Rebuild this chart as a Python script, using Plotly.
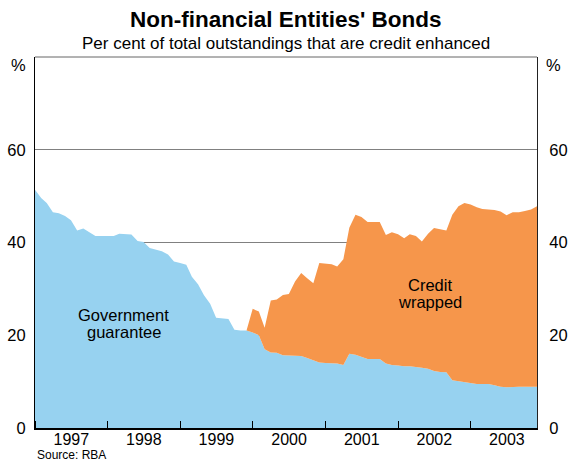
import pandas as pd
import plotly.graph_objects as go

# Monthly, Jan 1997 - Dec 2003
months = pd.date_range("1997-01-01", periods=84, freq="MS")

government_guarantee = [
    51.4, 49.6, 48.5, 46.5, 46.3, 45.7, 44.8, 42.6, 43.0, 42.3, 41.4, 41.4,
    41.4, 41.4, 41.9, 41.8, 41.7, 40.3, 40.1, 38.8, 38.4, 38.1, 37.4, 35.9,
    35.6, 35.2, 32.6, 31.0, 28.6, 26.8, 23.8, 23.6, 23.5, 21.2, 21.0, 21.0,
    20.6, 20.0, 17.0, 16.3, 16.2, 15.7, 15.6, 15.6, 15.5, 15.1, 14.6, 14.1,
    14.0, 14.0, 13.9, 13.6, 16.0, 15.8, 15.4, 14.9, 14.9, 14.9, 13.9, 13.6,
    13.5, 13.3, 13.3, 13.2, 13.0, 12.8, 12.3, 12.1, 12.0, 10.3, 10.1, 10.0,
    9.8, 9.5, 9.5, 9.5, 9.2, 8.9, 8.8, 8.9, 8.9, 8.9, 8.9, 8.9,
]

credit_wrapped = [
    0, 0, 0, 0, 0, 0, 0, 0, 0, 0, 0, 0,
    0, 0, 0, 0, 0, 0, 0, 0, 0, 0, 0, 0,
    0, 0, 0, 0, 0, 0, 0, 0, 0, 0, 0, 0,
    5.1, 5.1, 4.6, 11.2, 11.5, 13.0, 13.3, 16.0, 17.9, 17.2, 16.6, 21.5,
    21.5, 21.3, 20.9, 22.8, 27.2, 30.2, 30.1, 29.5, 29.5, 29.5, 27.7, 28.6,
    28.3, 27.6, 28.5, 28.2, 27.2, 29.1, 30.8, 30.7, 30.6, 35.7, 37.7, 38.5,
    38.4, 38.1, 37.7, 37.6, 37.8, 37.8, 37.1, 37.6, 37.6, 37.9, 38.2, 38.9,
]

y_tickvals = [0, 20, 40, 60]
y_ticktext = ["0", "20", "40", "60"]

BLUE = "#97D2F0"
ORANGE = "#F6964B"
FONT = "Liberation Sans, Arial, sans-serif"
FS = 16.5

fig = go.Figure()
fig.add_trace(go.Scatter(
    x=months, y=government_guarantee, stackgroup="s", mode="lines",
    line=dict(width=0, color=BLUE), fillcolor=BLUE, name="Government guarantee",
))
fig.add_trace(go.Scatter(
    x=months, y=credit_wrapped, stackgroup="s", mode="lines",
    line=dict(width=0, color=ORANGE), fillcolor=ORANGE, name="Credit wrapped",
))
# invisible trace for right axis
fig.add_trace(go.Scatter(x=[months[0]], y=[0], yaxis="y2", mode="markers",
                         marker=dict(opacity=0), showlegend=False, hoverinfo="skip"))

axis_common = dict(
    range=[0, 80], tickvals=y_tickvals, ticktext=y_ticktext,
    tickfont=dict(family=FONT, size=FS, color="black"),
    ticks="", zeroline=False, automargin=False,
)

def ann(text, x, y, size=FS, **kw):
    d = dict(text=text, x=x, y=y, showarrow=False, font=dict(size=size, family=FONT, color="black"))
    d.update(kw)
    return d

fig.update_layout(
    width=568, height=463,
    margin=dict(l=35, r=31, t=57, b=35),
    paper_bgcolor="white", plot_bgcolor="white",
    showlegend=False,
    font=dict(family=FONT, color="black"),
    xaxis=dict(
        type="date", range=[months[0], months[-1]],
        dtick="M12", tick0="1997-01-01", tickformat="%Y",
        ticklabelmode="period", ticks="inside", ticklen=7, tickcolor="black",
        tickfont=dict(family=FONT, size=16, color="black"), ticklabelstandoff=-4,
        showgrid=False, showline=True, linecolor="black", linewidth=1.5,
        mirror=False, automargin=False,
    ),
    yaxis=dict(
        **axis_common, ticklabelstandoff=5,
        showgrid=True, gridcolor="#808080", gridwidth=1,
        showline=True, linecolor="black", linewidth=1,
    ),
    yaxis2=dict(
        **axis_common, ticklabelstandoff=8, overlaying="y", side="right", showgrid=False,
        showline=True, linecolor="#222222", linewidth=1,
    ),
    shapes=[dict(type="line", xref="paper", yref="paper", x0=0, x1=1, y0=1, y1=1,
                 line=dict(color="#666666", width=1))],
    annotations=[
        ann("<b>Non-financial Entities' Bonds</b>", 0.5, 1, size=22.5,
            xref="paper", yref="paper", yanchor="middle", yshift=38),
        ann("Per cent of total outstandings that are credit enhanced", 0.5, 1, size=17,
            xref="paper", yref="paper", yanchor="middle", yshift=14),
        ann("%", 0, 78.3, xref="paper", yref="y", xanchor="right", xshift=-7),
        ann("%", 1, 78.3, xref="paper", yref="y", xanchor="left", xshift=7),
        ann("Government", "1998-03-23", 24.3, xref="x", yref="y"),
        ann("guarantee", "1998-03-23", 20.7, xref="x", yref="y"),
        ann("Credit", "2002-06-10", 30.9, xref="x", yref="y"),
        ann("wrapped", "2002-06-10", 27.2, xref="x", yref="y"),
        ann("Source: RBA", 0, 0, size=12, xref="paper", yref="paper",
            xanchor="left", xshift=1, yanchor="bottom", yshift=-35, borderpad=0),
    ],
)

fig.write_html("out.html")
